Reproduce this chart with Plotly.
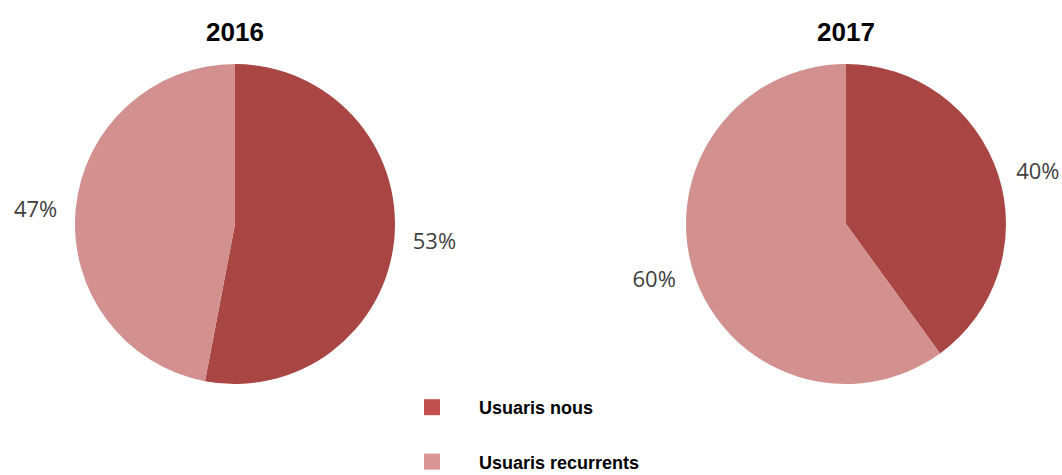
import plotly.graph_objects as go

categories = ["Usuaris nous", "Usuaris recurrents"]
years = ["2016", "2017"]
values_2016 = [53, 47]
values_2017 = [40, 60]
colors = ["#A94644", "#D2908F"]
legend_colors = ["#C0504D", "#D99694"]

W, H = 1062, 475
fig = go.Figure()

def dom(cx, cy, r):
    return dict(x=[(cx - r) / W, (cx + r) / W], y=[1 - (cy + r) / H, 1 - (cy - r) / H])

centers = [(235, 224), (846, 224)]
for vals, (cx, cy), yr in zip([values_2016, values_2017], centers, years):
    # visible pie
    fig.add_trace(go.Pie(
        labels=categories, values=vals, sort=False, direction="clockwise", rotation=0,
        marker=dict(colors=colors, line=dict(width=0)),
        textinfo="none", showlegend=False, domain=dom(cx, cy, 160), hoverinfo="label+percent",
    ))
    # transparent carrier for outside percentage labels
    fig.add_trace(go.Pie(
        labels=categories, values=vals, sort=False, direction="clockwise", rotation=0,
        marker=dict(colors=["rgba(0,0,0,0)"] * 2, line=dict(width=0)),
        textinfo="percent", textposition="outside", texttemplate="%{percent:.0%}",
        outsidetextfont=dict(family="Open Sans", size=22, color="#404040"),
        showlegend=False, domain=dom(cx, cy, 171), hoverinfo="skip",
    ))
    fig.add_annotation(text=yr, x=cx / W, y=1 - 32 / H, xref="paper", yref="paper",
                       xanchor="center", yanchor="middle",
                       showarrow=False, font=dict(family="Liberation Sans", size=26, color="#000000", weight="bold"))

for cat, col in zip(categories, legend_colors):
    fig.add_trace(go.Scatter(x=[None], y=[None], mode="markers", name=cat, legendgroup=cat,
                             marker=dict(symbol="square", size=19, color=col)))

fig.update_layout(
    width=W, height=H, margin=dict(l=0, r=0, t=0, b=0, autoexpand=False),
    paper_bgcolor="white", plot_bgcolor="white",
    xaxis=dict(visible=False), yaxis=dict(visible=False),
    legend=dict(x=385 / W, y=1 - 389 / H, xanchor="left", yanchor="top",
                tracegroupgap=28, itemwidth=84,
                font=dict(family="Liberation Sans", size=18, color="#000000", weight="bold"),
                bgcolor="rgba(0,0,0,0)"),
)

fig.write_html("out.html", config={"displayModeBar": False},
               post_script="document.body.style.margin='0';document.body.style.overflow='hidden';")
